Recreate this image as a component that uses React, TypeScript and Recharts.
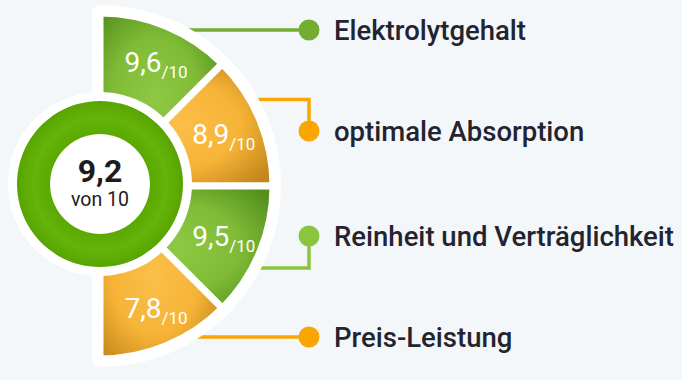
import React from 'react';
import { PieChart, Pie, Cell } from 'recharts';

// Criteria and their scores (out of 10)
const criteria = ['Elektrolytgehalt', 'optimale Absorption', 'Reinheit und Verträglichkeit', 'Preis-Leistung'];
const scores = [9.6, 8.9, 9.5, 7.8];
const overall = 9.2;
const maxScore = 10;
// every segment takes the same share of the half circle
const shares = [1, 1, 1, 1];
const tones = ['green', 'orange', 'green', 'orange'];
const dotColors = ['#74ad31', '#f9a602', '#8bc53f', '#f9a602'];

const W = 682;
const H = 380;
const CX = 100;
const CY = 186;
const R = 173;
const RADIAN = Math.PI / 180;
const FONT = 'Roboto, sans-serif';

const fmt = (v: number) => v.toFixed(1).replace('.', ',');

const segData = criteria.map((name, i) => ({ name, score: scores[i], share: shares[i], tone: tones[i] }));

// connector routes from the segments to the legend dots
const connectors = [
  { d: 'M185,30 H309', dot: [309, 30] },
  { d: 'M255,99.5 H309 V131', dot: [309, 131] },
  { d: 'M309,236 V268 H255', dot: [309, 236] },
  { d: 'M195,337 H309', dot: [309, 337] },
];

const SegmentLabel = (props: any) => {
  const { cx, cy, midAngle, index } = props;
  const r = 133;
  const s = Math.sin(midAngle * RADIAN);
  // nudge the steep labels a bit outwards, like the original
  const x = cx + r * Math.cos(-midAngle * RADIAN) + 6 * s * s;
  const y = cy + r * Math.sin(-midAngle * RADIAN);
  return (
    <text x={x} y={y + 9} textAnchor="middle" fill="#fff" fontFamily={FONT}>
      <tspan fontSize={28}>{fmt(scores[index])}</tspan>
      <tspan fontSize={17} dy={6}>{`/${maxScore}`}</tspan>
    </text>
  );
};

const App: React.FC = () => {
  return (
    <div style={{ position: 'fixed', left: 0, top: 0, width: W, height: H, background: '#f4f7fa' }}>
      {/* connectors and legend sit under the chart */}
      <svg width={W} height={H} style={{ position: 'absolute', left: 0, top: 0 }}>
        {connectors.map((c, i) => (
          <g key={i}>
            <path d={c.d} fill="none" stroke={dotColors[i]} strokeWidth={3.5} />
            <circle cx={c.dot[0]} cy={c.dot[1]} r={10.5} fill={dotColors[i]} />
            <text
              x={334}
              y={c.dot[1]}
              dominantBaseline="central"
              fontFamily={FONT}
              fontWeight={500}
              fontSize={27.5}
              fill="#23242f"
            >
              {criteria[i]}
            </text>
          </g>
        ))}
      </svg>
      <div style={{ position: 'absolute', left: 0, top: 0 }}>
        <PieChart width={W} height={H} margin={{ top: 0, right: 0, bottom: 0, left: 0 }}>
          <defs>
            <radialGradient id="gradGreen" cx="45%" cy="50%" r="65%">
              <stop offset="0%" stopColor="#8fc943" />
              <stop offset="55%" stopColor="#7fbb36" />
              <stop offset="100%" stopColor="#55901d" />
            </radialGradient>
            <radialGradient id="gradOrange" cx="45%" cy="50%" r="65%">
              <stop offset="0%" stopColor="#fbbf48" />
              <stop offset="55%" stopColor="#f6b437" />
              <stop offset="100%" stopColor="#c4861b" />
            </radialGradient>
            <radialGradient id="gradRing" cx="50%" cy="50%" r="50%">
              <stop offset="60%" stopColor="#5aa800" />
              <stop offset="80%" stopColor="#64b40a" />
              <stop offset="100%" stopColor="#58a400" />
            </radialGradient>
          </defs>
          {/* white backdrop behind the half circle */}
          <Pie
            data={[{ v: 1 }]}
            dataKey="v"
            cx={CX}
            cy={CY}
            startAngle={90}
            endAngle={-90}
            innerRadius={0}
            outerRadius={R}
            fill="#fff"
            stroke="#fff"
            strokeWidth={16}
            strokeLinejoin="round"
            isAnimationActive={false}
          />
          <Pie
            data={segData}
            dataKey="share"
            cx={CX}
            cy={CY}
            startAngle={90}
            endAngle={-90}
            innerRadius={0}
            outerRadius={R}
            stroke="#fff"
            strokeWidth={7}
            label={SegmentLabel}
            labelLine={false}
            isAnimationActive={false}
          >
            {segData.map((d, i) => (
              <Cell key={i} fill={d.tone === 'green' ? 'url(#gradGreen)' : 'url(#gradOrange)'} />
            ))}
          </Pie>
          {/* overall score ring */}
          <Pie
            data={[{ v: 1 }]}
            dataKey="v"
            cx={CX}
            cy={184}
            startAngle={90}
            endAngle={-270}
            innerRadius={0}
            outerRadius={92}
            fill="#fff"
            stroke="none"
            isAnimationActive={false}
          />
          <Pie
            data={[{ v: overall }]}
            dataKey="v"
            cx={CX}
            cy={184}
            startAngle={90}
            endAngle={-270}
            innerRadius={50}
            outerRadius={83}
            fill="url(#gradRing)"
            stroke="none"
            isAnimationActive={false}
          />
        </PieChart>
      </div>
      {/* overall score text on top */}
      <svg width={W} height={H} style={{ position: 'absolute', left: 0, top: 0, pointerEvents: 'none' }}>
        <text x={CX} y={182} textAnchor="middle" fontFamily={FONT} fontWeight={700} fontSize={32} fill="#1c1c1c">
          {fmt(overall)}
        </text>
        <text x={CX} y={206} textAnchor="middle" fontFamily={FONT} fontSize={19.5} fill="#1c1c1c">
          {`von ${maxScore}`}
        </text>
      </svg>
    </div>
  );
};

export default App;
